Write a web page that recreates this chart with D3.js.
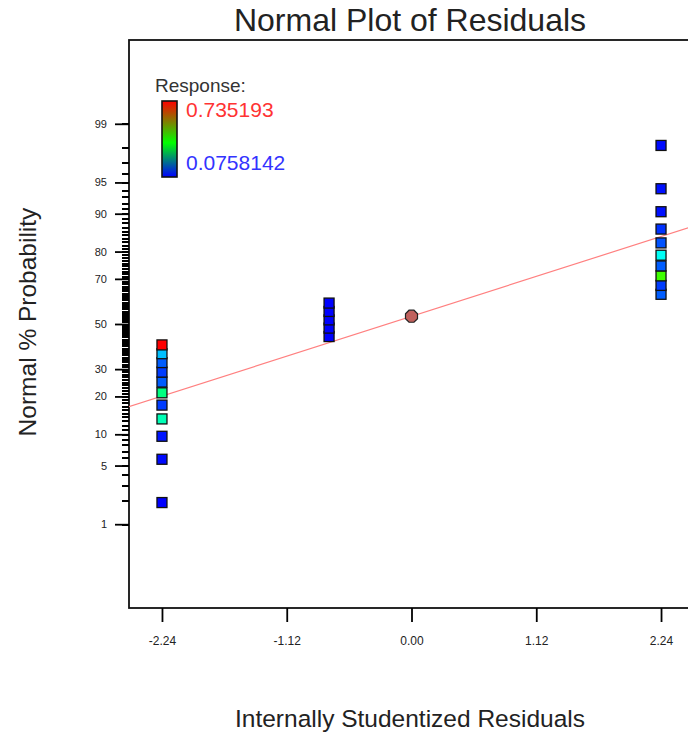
<!DOCTYPE html>
<html>
<head>
<meta charset="utf-8">
<script src="https://cdn.jsdelivr.net/npm/d3@7"></script>
<style>
  body { margin: 0; background: #fff; }
  svg { display: block; font-family: "Liberation Sans", Arial, sans-serif; }
</style>
</head>
<body>
<div id="chart"></div>
<script>
// residual, normal % probability and response for each run (rank order)
const residuals = [-2.24, -2.24, -2.24, -2.24, -2.24, -2.24, -2.24, -2.24, -2.24, -2.24, -2.24,
  -0.74, -0.74, -0.74, -0.74, -0.74,
  2.24, 2.24, 2.24, 2.24, 2.24, 2.24, 2.24, 2.24, 2.24, 2.24];
const probabilities = [1.9, 5.8, 9.6, 13.5, 17.3, 21.2, 25.0, 28.8, 32.7, 36.5, 40.4,
  44.2, 48.1, 51.9, 55.8, 59.6,
  63.5, 67.3, 71.2, 75.0, 78.8, 82.7, 86.5, 90.4, 94.2, 98.1];
const responses = [0.0758142, 0.085, 0.095, 0.335, 0.13, 0.356, 0.16, 0.13, 0.16, 0.25, 0.735193,
  0.078, 0.078, 0.078, 0.078, 0.078,
  0.16, 0.13, 0.43, 0.16, 0.31, 0.15, 0.12, 0.09, 0.09, 0.085];

const centerPoint = { residual: 0.0, probability: 53.6 };
// normal reference line end points (residual, %)
const lineResiduals = [-2.54, 2.54];
const lineProbabilities = [16.8, 87.3];

const majorPercents = [1, 5, 10, 20, 30, 50, 70, 80, 90, 95, 99];
const minorPercents = d3.range(1, 100);
const xTicks = [-2.24, -1.12, 0.00, 1.12, 2.24];
const responseRange = [0.0758142, 0.735193];

// inverse normal CDF (Acklam)
function probit(p) {
  const a = [-3.969683028665376e+01, 2.209460984245205e+02, -2.759285104469687e+02, 1.383577518672690e+02, -3.066479806614716e+01, 2.506628277459239e+00];
  const b = [-5.447609879822406e+01, 1.615858368580409e+02, -1.556989798598866e+02, 6.680131188771972e+01, -1.328068155288572e+01];
  const c = [-7.784894002430293e-03, -3.223964580411365e-01, -2.400758277161838e+00, -2.549732539343734e+00, 4.374664141464968e+00, 2.938163982698783e+00];
  const d = [7.784695709041462e-03, 3.224671290700398e-01, 2.445134137142996e+00, 3.754408661907416e+00];
  const pl = 0.02425;
  let q, r;
  if (p < pl) {
    q = Math.sqrt(-2 * Math.log(p));
    return (((((c[0]*q+c[1])*q+c[2])*q+c[3])*q+c[4])*q+c[5]) / ((((d[0]*q+d[1])*q+d[2])*q+d[3])*q+1);
  }
  if (p > 1 - pl) {
    q = Math.sqrt(-2 * Math.log(1 - p));
    return -(((((c[0]*q+c[1])*q+c[2])*q+c[3])*q+c[4])*q+c[5]) / ((((d[0]*q+d[1])*q+d[2])*q+d[3])*q+1);
  }
  q = p - 0.5; r = q * q;
  return (((((a[0]*r+a[1])*r+a[2])*r+a[3])*r+a[4])*r+a[5])*q / (((((b[0]*r+b[1])*r+b[2])*r+b[3])*r+b[4])*r+1);
}
const z = pct => probit(pct / 100);

const width = 688, height = 734;
const plotLeft = 129, plotRight = 694, plotTop = 40, plotBottom = 608;

const svg = d3.select("#chart").append("svg")
  .attr("width", width).attr("height", height);

const x = d3.scaleLinear().domain([-2.536, 2.536]).range([plotLeft, plotRight]);
const y = d3.scaleLinear().domain([-3.3, 3.3]).range([plotBottom, plotTop]);

const t = d3.scaleLinear().domain(responseRange).range([0, 1]);
const jet = d3.scaleLinear()
  .domain([0, 0.35, 0.5, 0.65, 1])
  .range(["#0000ff", "#00ffff", "#00ff00", "#ffff00", "#ff0000"]);
const color = v => jet(t(v));

const defs = svg.append("defs");
defs.append("clipPath").attr("id", "plot")
  .append("rect").attr("x", plotLeft).attr("y", plotTop)
  .attr("width", plotRight - plotLeft).attr("height", plotBottom - plotTop);

// title
svg.append("text").attr("x", 410).attr("y", 31)
  .attr("text-anchor", "middle").style("font-size", "32px").attr("fill", "#222")
  .text("Normal Plot of Residuals");

// frame
svg.append("rect").attr("x", plotLeft).attr("y", plotTop)
  .attr("width", plotRight - plotLeft).attr("height", plotBottom - plotTop)
  .attr("fill", "none").attr("stroke", "#111").attr("stroke-width", 1.8);

// y minor ticks, one for every percent
svg.append("g").attr("transform", `translate(${plotLeft},0)`)
  .call(d3.axisLeft(y).tickValues(minorPercents.map(z)).tickSize(7).tickSizeOuter(0).tickFormat(""))
  .call(g => g.select(".domain").remove())
  .call(g => g.selectAll("line").attr("stroke", "#000").attr("stroke-width", 2)
    .attr("shape-rendering", "crispEdges"));

// y major ticks
svg.append("g").attr("transform", `translate(${plotLeft},0)`)
  .call(d3.axisLeft(y).tickValues(majorPercents.map(z)).tickSize(14).tickSizeOuter(0)
    .tickFormat((d, i) => majorPercents[i]))
  .call(g => g.select(".domain").remove())
  .call(g => g.selectAll("line").attr("stroke", "#000").attr("stroke-width", 1.8))
  .call(g => g.selectAll("text").attr("x", -22).style("font-size", "11px")
    .style("font-family", "'Liberation Sans Narrow', 'Liberation Sans', Arial").attr("fill", "#222"));

// x ticks
svg.append("g").attr("transform", `translate(0,${plotBottom})`)
  .call(d3.axisBottom(x).tickValues(xTicks).tickSize(14).tickSizeOuter(0)
    .tickFormat(d => d.toFixed(2)))
  .call(g => g.select(".domain").remove())
  .call(g => g.selectAll("line").attr("stroke", "#000").attr("stroke-width", 1.8))
  .call(g => g.selectAll("text").attr("y", 28).style("font-size", "12px")
    .style("font-family", "'Liberation Sans Narrow', 'Liberation Sans', Arial").attr("fill", "#222"));

// axis titles
svg.append("text").attr("x", 410).attr("y", 727)
  .attr("text-anchor", "middle").style("font-size", "24.5px").attr("fill", "#222")
  .text("Internally Studentized Residuals");
svg.append("text")
  .attr("transform", "translate(36,322) rotate(-90)")
  .attr("text-anchor", "middle").style("font-size", "24.5px").attr("fill", "#222")
  .text("Normal % Probability");

const plot = svg.append("g").attr("clip-path", "url(#plot)");

// reference line
plot.append("path")
  .datum(lineResiduals.map((r, i) => [r, lineProbabilities[i]]))
  .attr("d", d3.line().x(d => x(d[0])).y(d => y(z(d[1]))))
  .attr("stroke", "#ff8080").attr("stroke-width", 1.2).attr("fill", "none");

// runs
const pts = residuals.map((r, i) => ({ r, p: probabilities[i], v: responses[i] }));
const s = 10;
plot.selectAll("rect.pt").data(pts).enter().append("rect")
  .attr("class", "pt")
  .attr("x", d => x(d.r) - s / 2)
  .attr("y", d => y(z(d.p)) - s / 2)
  .attr("width", s).attr("height", s)
  .attr("fill", d => color(d.v))
  .attr("stroke", "#111").attr("stroke-width", 1.3);

// center marker
const oct = d3.range(8).map(k => [6.5 * Math.cos(k * Math.PI / 4 + Math.PI / 8), 6.5 * Math.sin(k * Math.PI / 4 + Math.PI / 8)]);
plot.append("path")
  .attr("transform", `translate(${x(centerPoint.residual)},${y(z(centerPoint.probability))})`)
  .attr("d", d3.line()(oct) + "Z")
  .attr("fill", "#c0605c").attr("stroke", "#222").attr("stroke-width", 1.2);

// legend
svg.append("text").attr("x", 155).attr("y", 92)
  .style("font-size", "19px").attr("fill", "#333").text("Response:");
const grad = defs.append("linearGradient").attr("id", "resp")
  .attr("x1", 0).attr("y1", 0).attr("x2", 0).attr("y2", 1);
grad.append("stop").attr("offset", "0%").attr("stop-color", "#ff0000");
grad.append("stop").attr("offset", "55%").attr("stop-color", "#00ff00");
grad.append("stop").attr("offset", "100%").attr("stop-color", "#0000ff");
svg.append("rect").attr("x", 162).attr("y", 101).attr("width", 15).attr("height", 76)
  .attr("fill", "url(#resp)").attr("stroke", "#111").attr("stroke-width", 1.6);
svg.append("text").attr("x", 186).attr("y", 117)
  .style("font-size", "21px").attr("fill", "#ff3333").text(responseRange[1]);
svg.append("text").attr("x", 186).attr("y", 170)
  .style("font-size", "21px").attr("fill", "#3333ff").text(responseRange[0]);
</script>
</body>
</html>
